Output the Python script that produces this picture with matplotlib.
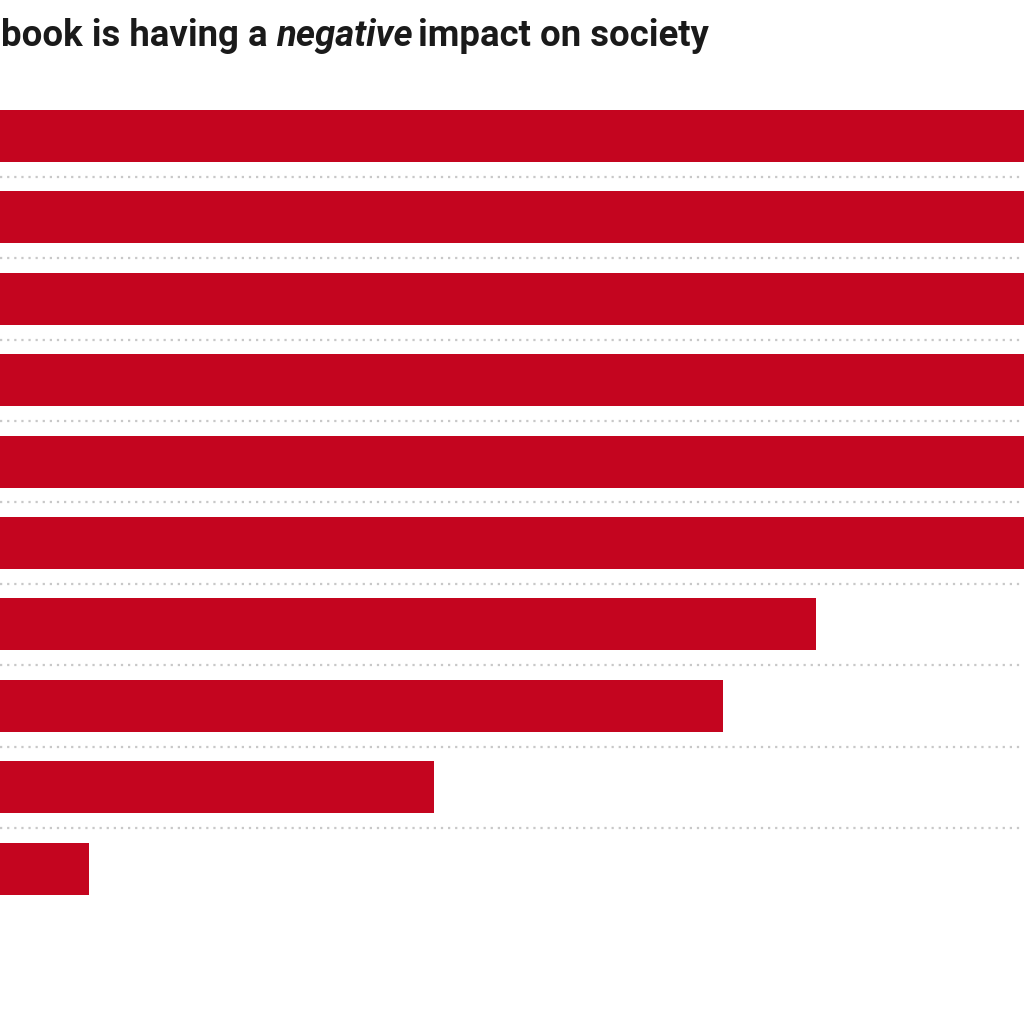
import matplotlib
matplotlib.use("Agg")
from matplotlib import pyplot as plt

# ---- data (chart is cropped: long bars run past the right edge, origin is off the left edge) ----
title_pre = "book is having a"
title_em = "negative"
title_post = "impact on society"
values = [99.0, 98.5, 98.0, 97.5, 97.0, 96.5, 79.7, 73.1, 52.4, 27.8]

BAR_COLOR = "#c4051f"
GRID_COLOR = "#c8c8c8"

W = H = 1024
fig = plt.figure(figsize=(W / 100, H / 100), dpi=100)
ax = fig.add_axes([0, 0, 1, 1])

# pixel -> data mapping for the visible window
px_per_unit, x0_px = 14.0, -300.0
row0_px, row_step = 136.0, 81.4
ax.set_xlim((0 - x0_px) / px_per_unit, (W - x0_px) / px_per_unit)
ax.set_ylim((H - row0_px) / row_step, (0 - row0_px) / row_step)

rows = list(range(len(values)))
ax.barh(rows, values, height=52 / row_step, color=BAR_COLOR, left=0)
for r in rows[:-1]:
    ax.axhline(r + 0.5, color=GRID_COLOR, lw=1.6, ls=(0, (1, 2.2)), zorder=0)
ax.axis("off")

# ---- title with italic emphasis, laid out left to right ----
fig.canvas.draw()
rend = fig.canvas.get_renderer()
fam = ["Roboto", "DejaVu Sans"]
fs = 26.3
y_base = 1 - 46 / H
t1 = fig.text(1 / W, y_base, title_pre, ha="left", va="baseline",
              fontsize=fs, fontweight="bold", family=fam, color="#1a1a1a")
bb1 = t1.get_window_extent(rend)
t2 = fig.text((bb1.x1 + 8) / W, y_base, title_em, ha="left", va="baseline",
              fontsize=fs, fontweight="bold", fontstyle="italic", family=fam, color="#1a1a1a")
bb2 = t2.get_window_extent(rend)
fig.text((bb2.x1 + 6) / W, y_base, title_post, ha="left", va="baseline",
         fontsize=fs, fontweight="bold", family=fam, color="#1a1a1a")

fig.savefig("out.png", dpi=100, facecolor="white")
